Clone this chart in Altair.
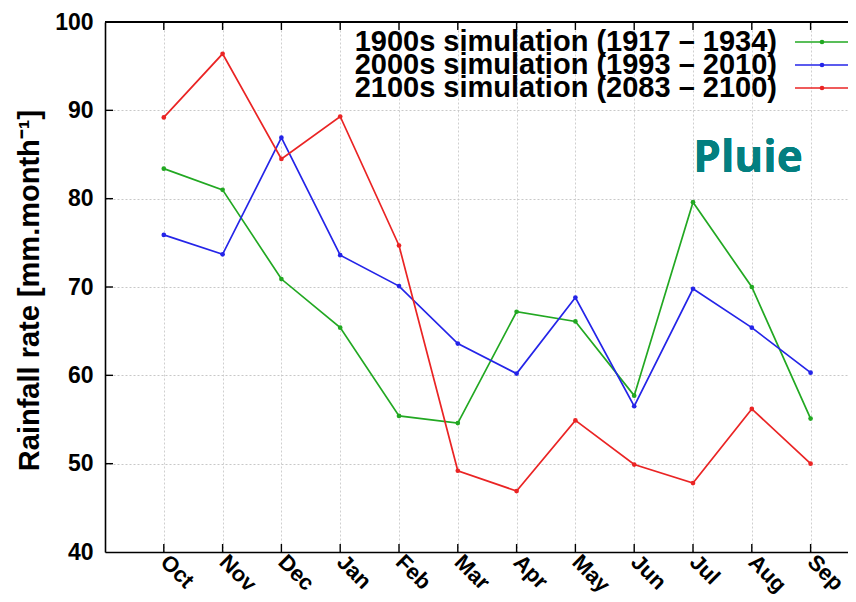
import altair as alt
import pandas as pd

months = ["Oct", "Nov", "Dec", "Jan", "Feb", "Mar", "Apr", "May", "Jun", "Jul", "Aug", "Sep"]
series_names = ["1900s simulation (1917 – 1934)", "2000s simulation (1993 – 2010)", "2100s simulation (2083 – 2100)"]
sim_1900 = [83.4, 81.0, 70.9, 65.4, 55.4, 54.6, 67.2, 66.1, 57.7, 79.6, 70.0, 55.1]
sim_2000 = [75.9, 73.7, 86.9, 73.6, 70.1, 63.6, 60.2, 68.8, 56.5, 69.8, 65.4, 60.3]
sim_2100 = [89.2, 96.4, 84.5, 89.3, 74.7, 49.2, 46.9, 54.9, 49.9, 47.8, 56.2, 50.0]
colors = ["#22a822", "#2424e8", "#ea2424"]
y_ticks = [40, 50, 60, 70, 80, 90, 100]

rows = []
for name, vals in zip(series_names, [sim_1900, sim_2000, sim_2100]):
    for i, (m, v) in enumerate(zip(months, vals)):
        rows.append({"series": name, "month": m, "idx": i + 1, "value": v})
df = pd.DataFrame(rows)
mdf = pd.DataFrame({"idx": list(range(1, len(months) + 1))})
ydf = pd.DataFrame({"v": y_ticks[1:-1]})
legdf = pd.DataFrame({"series": series_names, "rank": list(range(len(series_names)))})

W, H = 743, 530
PX = 58.8
FONT = "Liberation Sans"

label_expr = "[" + ",".join("'%s'" % m for m in months) + "][datum.value - 1]"

xscale = alt.Scale(domain=[0, W / PX], nice=False, zero=False)
yscale = alt.Scale(domain=[40, 100], nice=False, zero=False)
cscale = alt.Scale(domain=series_names, range=colors)

base = alt.Chart(df)
lines = base.mark_line(strokeWidth=1.7).encode(
    x=alt.X("idx:Q", scale=xscale,
            axis=alt.Axis(values=list(range(1, 13)), labelExpr=label_expr, labelAngle=45,
                          labelAlign="left", labelBaseline="middle", labelFont=FONT,
                          labelFontWeight="bold", labelFontSize=22, labelColor="black",
                          labelPadding=6, ticks=False, title=None, grid=True,
                          gridColor="#cfcfcf", gridDash=[2, 2], domainColor="black",
                          domainWidth=1.6, labelFlush=False, labelOverlap=False)),
    y=alt.Y("value:Q", scale=yscale,
            axis=alt.Axis(values=y_ticks, labelFont=FONT, labelFontWeight="bold",
                          labelFontSize=23, labelColor="black", labelPadding=12,
                          ticks=False, title="Rainfall rate [mm.month⁻¹]",
                          titleFont=FONT, titleFontWeight="bold", titleFontSize=29,
                          titleColor="black", titlePadding=10, titleY=268,
                          grid=True, gridColor="#c8c8c8", gridDash=[2, 2],
                          domainColor="black", domainWidth=1.6)),
    color=alt.Color("series:N", scale=cscale, legend=None),
    detail="series:N",
)
points = base.mark_point(filled=True, size=22, opacity=1).encode(
    x=alt.X("idx:Q", scale=xscale),
    y=alt.Y("value:Q", scale=yscale),
    color=alt.Color("series:N", scale=cscale, legend=None),
)
mchart = alt.Chart(mdf)
top_ticks = mchart.mark_rule(color="black", strokeWidth=1.4).encode(
    x=alt.X("idx:Q", scale=xscale), y=alt.value(0), y2=alt.value(8))
bot_ticks = mchart.mark_rule(color="black", strokeWidth=1.4).encode(
    x=alt.X("idx:Q", scale=xscale), y=alt.value(H - 8), y2=alt.value(H))
left_ticks = alt.Chart(ydf).mark_rule(color="black", strokeWidth=1.4).encode(
    y=alt.Y("v:Q", scale=yscale), x=alt.value(0), x2=alt.value(8))
top_border = mchart.mark_rule(color="black", strokeWidth=1.6).encode(
    x=alt.value(0), x2=alt.value(W), y=alt.value(0))

main = alt.layer(lines, points, top_ticks, bot_ticks, left_ticks, top_border)

lscale = alt.Scale(domain=[0, len(series_names) - 1], range=[20, 66], nice=False, zero=False)
lbase = alt.Chart(legdf)
leg_text = lbase.mark_text(align="right", baseline="middle", font=FONT, fontWeight="bold",
                           fontSize=29, color="black").encode(
    x=alt.value(672), y=alt.Y("rank:Q", scale=lscale, axis=None), text="series:N")
leg_rule = lbase.mark_rule(strokeWidth=1.7).encode(
    x=alt.value(690), x2=alt.value(W), y=alt.Y("rank:Q", scale=lscale, axis=None),
    color=alt.Color("series:N", scale=cscale, legend=None))
leg_pt = lbase.mark_point(filled=True, size=22, opacity=1).encode(
    x=alt.value(717), y=alt.Y("rank:Q", scale=lscale, axis=None),
    color=alt.Color("series:N", scale=cscale, legend=None))
pluie = lbase.mark_text(text="Pluie", font="Open Sans", fontWeight="bold", fontSize=44,
                        color="#037f80", align="center", baseline="middle").encode(
    x=alt.value(643), y=alt.value(137))
legend = alt.layer(leg_text, leg_rule, leg_pt, pluie)

chart = alt.layer(main, legend).resolve_scale(y="independent").properties(
    width=W, height=H,
    autosize=alt.AutoSizeParams(type="none"),
    padding={"left": 97, "top": 14, "right": 0, "bottom": 42},
).configure_view(stroke=None)

chart.save("out.html", embed_options={"renderer": "svg", "actions": False})
